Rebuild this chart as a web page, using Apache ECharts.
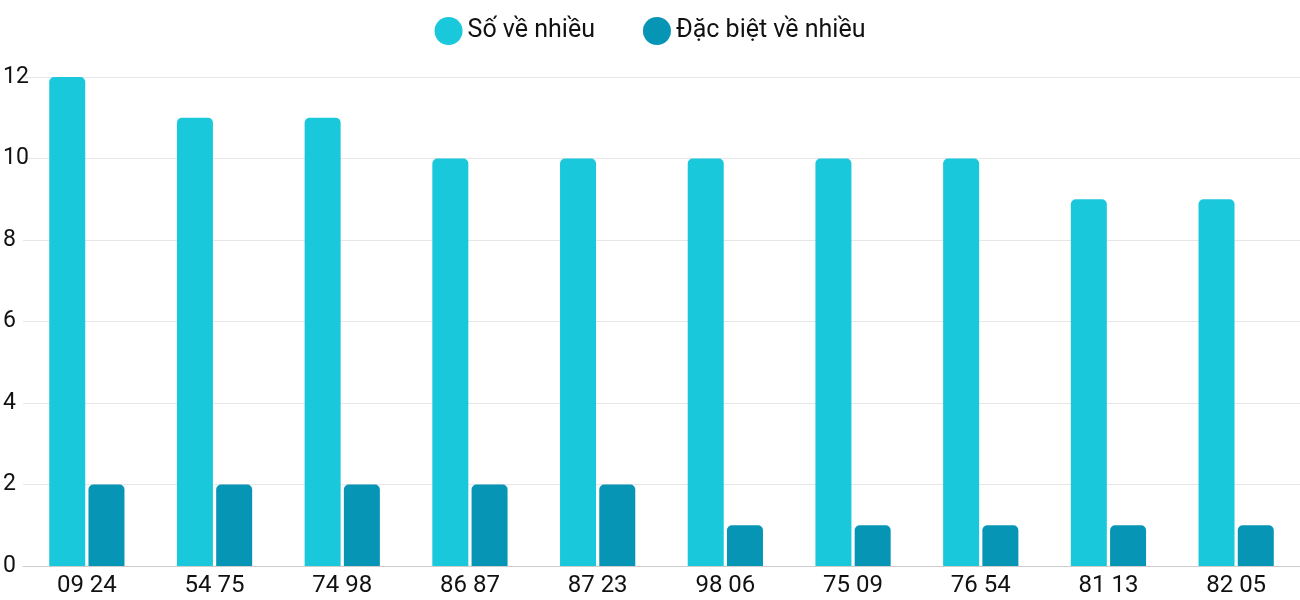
<!DOCTYPE html>
<html><head><meta charset="utf-8">
<script src="https://cdn.jsdelivr.net/npm/echarts@6/dist/echarts.min.js"></script>
<style>html,body{margin:0;padding:0;background:#fff}#c{width:1300px;height:600px}</style>
</head><body><div id="c"></div>
<script>
const categories = ["09 24","54 75","74 98","86 87","87 23","98 06","75 09","76 54","81 13","82 05"];
const soVeNhieu = [12,11,11,10,10,10,10,10,9,9];
const dacBiet = [2,2,2,2,2,1,1,1,1,1];
const yTicks = [0,2,4,6,8,10,12];
const chart = echarts.init(document.getElementById('c'));
chart.setOption({
  animation:false,
  textStyle:{fontFamily:'Roboto'},
  legend:{top:12,itemWidth:28,itemHeight:28,itemGap:48,icon:'circle',
    textStyle:{fontSize:25,color:'#111',fontFamily:'Roboto'}},
  grid:{left:20,width:1310,top:77,bottom:34},
  xAxis:{type:'category',data:categories,
    axisLine:{lineStyle:{color:'#ccc'}},axisTick:{show:false},
    axisLabel:{fontSize:24,color:'#111',margin:8}},
  yAxis:{type:'value',min:yTicks[0],max:yTicks[yTicks.length-1],interval:2,
    splitLine:{lineStyle:{color:'#e6e6e6'}},
    axisLabel:{fontSize:23,color:'#111',align:'left',margin:20}},
  series:[
    {name:'Số về nhiều',type:'bar',data:soVeNhieu,barWidth:36,barGap:'9%',
     itemStyle:{color:'#1ac8db',borderRadius:[5,5,0,0]}},
    {name:'Đặc biệt về nhiều',type:'bar',data:dacBiet,barWidth:36,
     itemStyle:{color:'#0795b6',borderRadius:[5,5,0,0]}}
  ]
});
</script></body></html>
